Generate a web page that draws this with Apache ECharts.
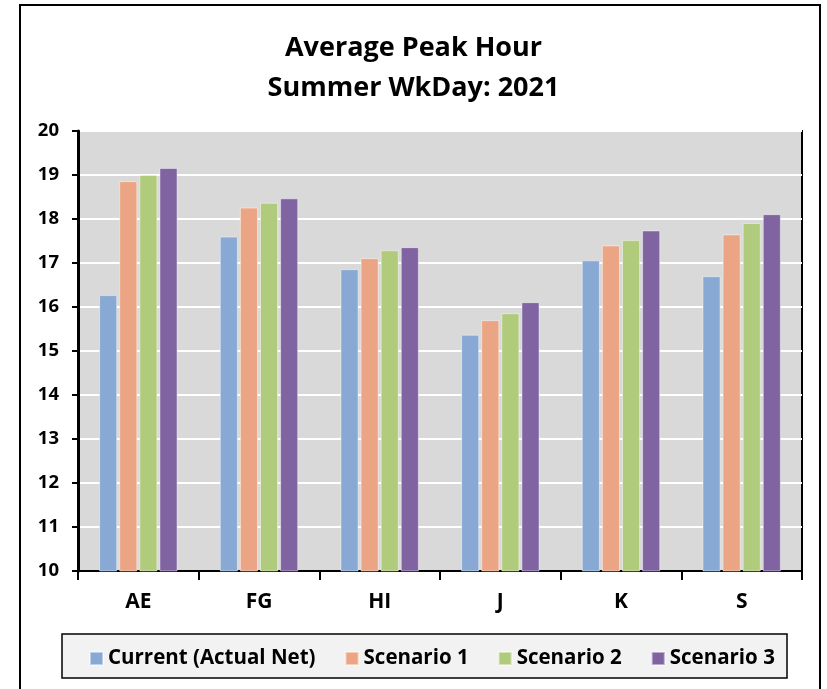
<!DOCTYPE html>
<html>
<head>
<meta charset="utf-8">
<script src="https://cdn.jsdelivr.net/npm/echarts@6/dist/echarts.min.js"></script>
<style>
  html, body { margin: 0; padding: 0; background: #fff; }
  #chart { width: 827px; height: 689px; }
</style>
</head>
<body>
<div id="chart"></div>
<script>
var categories = ['AE', 'FG', 'HI', 'J', 'K', 'S'];
var seriesNames = ['Current (Actual Net)', 'Scenario 1', 'Scenario 2', 'Scenario 3'];
var current = [16.27, 17.60, 16.86, 15.37, 17.06, 16.70];
var scenario1 = [18.86, 18.26, 17.11, 15.70, 17.40, 17.65];
var scenario2 = [19.00, 18.37, 17.29, 15.86, 17.52, 17.91];
var scenario3 = [19.16, 18.47, 17.36, 16.11, 17.74, 18.11];
var colors = ['#88a9d4', '#eca584', '#b1cb7c', '#8064a2'];

var font = '"Open Sans", "Noto Sans", sans-serif';
var allValues = [current, scenario1, scenario2, scenario3];

var series = seriesNames.map(function (name, i) {
    return {
        name: name,
        type: 'bar',
        data: allValues[i],
        barGap: '11%',
        barCategoryGap: '35%',
        itemStyle: { color: colors[i], borderColor: 'rgba(255,255,255,0.45)', borderWidth: 1 }
    };
});

var myChart = echarts.init(document.getElementById('chart'));
var option = {
    backgroundColor: '#fff',
    graphic: [{
        type: 'rect',
        shape: { x: 20, y: 5, width: 800, height: 700 },
        style: { fill: 'none', stroke: '#000', lineWidth: 2 },
        z: 100
    }, {
        // legend box
        type: 'rect',
        shape: { x: 62, y: 634, width: 725, height: 44 },
        style: { fill: '#f2f2f2', stroke: '#000', lineWidth: 1.5 },
        z: -1
    }],
    title: {
        text: 'Average Peak Hour\nSummer WkDay: 2021',
        left: 'center',
        top: 23,
        textStyle: {
            fontFamily: font, fontWeight: 'bold', fontSize: 27,
            color: '#000', lineHeight: 40
        }
    },
    legend: {
        data: seriesNames,
        left: 84,
        top: 643,
        itemWidth: 13,
        itemHeight: 13,
        itemGap: 29,
        padding: 5,
        icon: 'rect',
        textStyle: { fontFamily: font, fontWeight: 'bold', fontSize: 20.5, color: '#000' }
    },
    grid: {
        left: 78, right: 25, top: 131, bottom: 118,
        show: true,
        backgroundColor: '#d9d9d9',
        borderColor: '#000',
        borderWidth: 2
    },
    xAxis: {
        type: 'category',
        data: categories,
        axisLine: { lineStyle: { color: '#000', width: 2 } },
        axisTick: { show: true, length: 9, lineStyle: { color: '#000', width: 2 } },
        axisLabel: { fontFamily: font, fontWeight: 'bold', fontSize: 21, color: '#000', margin: 21 }
    },
    yAxis: {
        type: 'value',
        min: 10,
        max: 20,
        interval: 1,
        axisLine: { show: true, lineStyle: { color: '#000', width: 3 } },
        axisTick: { show: true, length: 6, lineStyle: { color: '#000', width: 2 } },
        axisLabel: { fontFamily: font, fontWeight: 'bold', fontSize: 18.5, color: '#000', margin: 19 },
        splitLine: { lineStyle: { color: '#fff', width: 2 } }
    },
    series: series
};
myChart.setOption(option);
</script>
</body>
</html>
